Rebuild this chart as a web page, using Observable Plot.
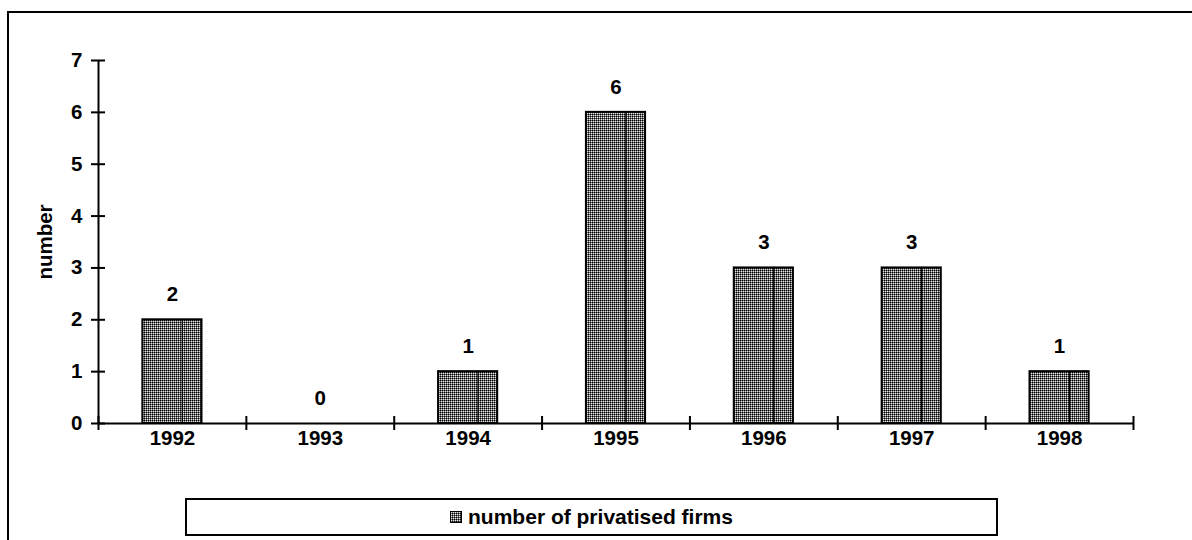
<!DOCTYPE html>
<html>
<head>
<meta charset="utf-8">
<script src="https://cdn.jsdelivr.net/npm/d3@7"></script>
<script src="https://cdn.jsdelivr.net/npm/@observablehq/plot@0.6"></script>
<style>
  html, body { margin: 0; padding: 0; background: #fff; overflow: hidden; width: 1192px; height: 540px; }
  #wrap { position: relative; width: 1192px; height: 540px; font-family: "Liberation Sans", Arial, sans-serif; }
  #frame { position: absolute; left: 7px; top: 11px; width: 1300px; height: 700px; border: 2px solid #000; box-sizing: border-box; }
  #chart { position: absolute; left: 0; top: 0; }
  #legend { position: absolute; left: 185px; top: 498px; width: 813px; height: 38px; border: 2px solid #000; box-sizing: border-box; background: #fff;
            display: flex; align-items: center; justify-content: center; gap: 6px; font: bold 21px "Liberation Sans", Arial, sans-serif; color: #000; }
  #legend svg { display: block; }
</style>
</head>
<body>
<div id="wrap">
  <div id="frame"></div>
  <div id="chart"></div>
  <div id="legend">
    <svg width="12" height="12"><defs><pattern id="lgrid" width="2" height="2" patternUnits="userSpaceOnUse"><rect width="2" height="2" fill="#e6e6e6"/><rect x="0" y="0" width="1" height="1" fill="#000"/><rect x="1" y="0" width="1" height="1" fill="#6a6a6a"/><rect x="0" y="1" width="1" height="1" fill="#6a6a6a"/></pattern></defs><rect x="0.5" y="0.5" width="11" height="11" fill="url(#lgrid)" stroke="#000" stroke-width="1"/></svg>
    <span id="legendText"></span>
  </div>
</div>
<script>
const years = ["1992", "1993", "1994", "1995", "1996", "1997", "1998"];
const values = [2, 0, 1, 6, 3, 3, 1];
const yTicks = [0, 1, 2, 3, 4, 5, 6, 7];
const seriesName = "number of privatised firms";
const yLabel = "number";

const data = years.map((year, i) => ({year, i, value: values[i]}));
const bars = data.filter(d => d.value > 0);
const boundaries = d3.range(0, years.length + 1);
const centers = years.map((_, i) => i + 0.5);

document.getElementById("legendText").textContent = seriesName;

const FS = 20.5;
const font = `bold ${FS}px 'Liberation Sans', Arial, sans-serif`;

const plot = Plot.plot({
  width: 1192,
  height: 490,
  marginLeft: 98,
  marginRight: 59,
  marginTop: 60,
  marginBottom: 67,
  style: {font, fontSize: FS + "px", fontWeight: "bold", color: "#000", background: "transparent", overflow: "visible"},
  x: {domain: [0, years.length]},
  y: {domain: [0, 7]},
  marks: [
    Plot.rectY(bars, {x1: d => d.i + 0.3, x2: d => d.i + 0.7, y1: 0, y2: "value", fill: "url(#grid)", stroke: "#000", strokeWidth: 2}),
    Plot.ruleX(bars, {x: d => d.i + 0.3 + 0.4 * 0.667, y1: 0, y2: "value", stroke: "#000", strokeWidth: 1.2}),
    Plot.text(data, {x: d => d.i + 0.5, y: "value", text: d => String(d.value), dy: -25, fontSize: FS, fontWeight: "bold", fill: "#000"}),
    Plot.ruleX([0], {stroke: "#000", strokeWidth: 2}),
    Plot.ruleY([0], {stroke: "#000", strokeWidth: 2}),
    Plot.axisY({ticks: yTicks, tickSize: 14, dx: 7, tickPadding: 9, strokeWidth: 2, label: null, fontSize: FS, fontWeight: "bold", tickFormat: d => String(d)}),
    Plot.axisX({ticks: boundaries, tickSize: 14, dy: -7, strokeWidth: 2, label: null, tickFormat: () => ""}),
    Plot.axisX({ticks: centers, tickSize: 0, tickPadding: 7, label: null, fontSize: FS, fontWeight: "bold", tickFormat: d => years[Math.floor(d)]}),
    Plot.text([yLabel], {frameAnchor: "left", textAnchor: "middle", rotate: -90, dx: -53, fontSize: FS, fontWeight: "bold", fill: "#000"})
  ]
});

const ns = "http://www.w3.org/2000/svg";
const defs = document.createElementNS(ns, "defs");
defs.innerHTML = '<pattern id="grid" width="2" height="2" patternUnits="userSpaceOnUse"><rect width="2" height="2" fill="#e6e6e6"/><rect x="0" y="0" width="1" height="1" fill="#000"/><rect x="1" y="0" width="1" height="1" fill="#6a6a6a"/><rect x="0" y="1" width="1" height="1" fill="#6a6a6a"/></pattern>';
plot.insertBefore(defs, plot.firstChild);
document.getElementById("chart").appendChild(plot);
</script>
</body>
</html>
